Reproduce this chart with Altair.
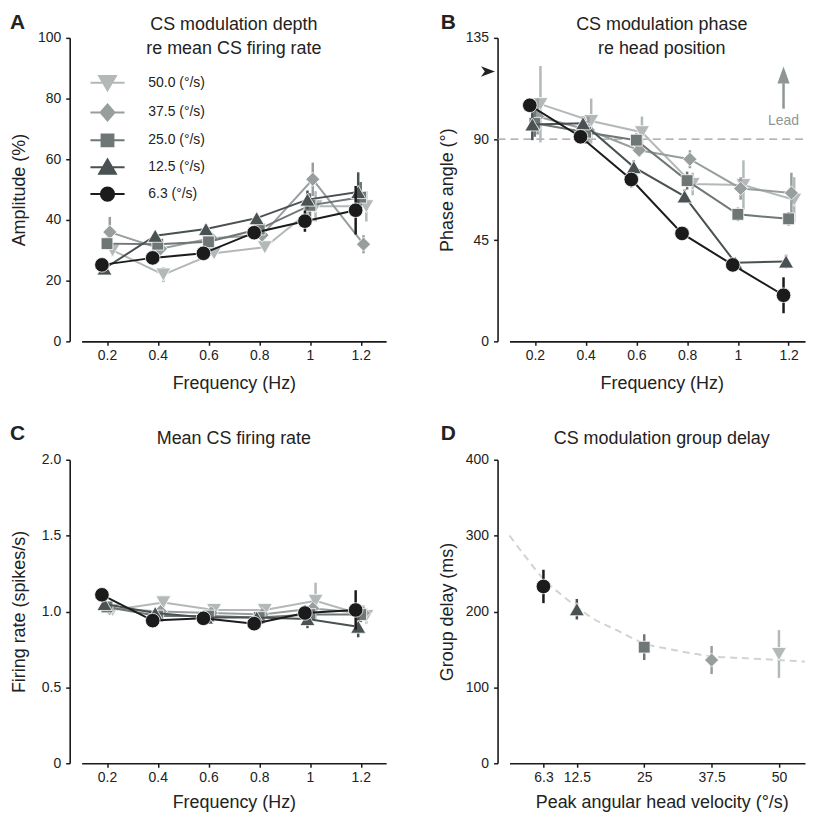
import altair as alt
import pandas as pd

# ---------------- data ----------------
freqs = [0.2, 0.4, 0.6, 0.8, 1.0, 1.2]
speed_labels = ["50.0", "37.5", "25.0", "12.5", "6.3"]   # back to front

# Panel A: modulation depth (%)
amp_50 = [30.0, 22.0, 29.0, 31.0, 44.5, 44.5]
amp_375 = [36.0, 30.5, 34.0, 35.0, 53.4, 32.0]
amp_25 = [32.2, 32.0, 32.8, 37.0, 44.8, 47.5]
amp_125 = [24.0, 34.8, 37.0, 40.6, 46.7, 49.2]
amp_63 = [25.2, 27.5, 29.0, 35.8, 39.6, 43.2]
amp_err_50 = [2.0, 2.5, 1.5, 1.5, 5.0, 5.0]
amp_err_375 = [5.0, 2.0, 2.0, 2.0, 5.5, 3.0]
amp_err_25 = [2.0, 1.5, 1.5, 2.0, 4.0, 5.0]
amp_err_125 = [1.5, 1.5, 1.5, 1.5, 3.0, 6.5]
amp_err_63 = [1.5, 1.5, 1.5, 2.0, 3.5, 8.0]

# Panel B: phase (deg)
ph_50 = [105.5, 98.0, 93.0, 70.0, 69.5, 63.0]
ph_375 = [100.0, 94.0, 85.0, 81.0, 68.0, 66.0]
ph_25 = [97.0, 93.0, 89.5, 71.5, 56.5, 54.5]
ph_125 = [96.5, 97.0, 77.5, 64.5, 35.0, 35.5]
ph_63 = [105.0, 91.0, 72.0, 48.0, 34.0, 20.5]
ph_err_50 = [17.0, 10.0, 7.0, 5.0, 11.0, 10.0]
ph_err_375 = [8.0, 6.0, 3.0, 4.0, 5.0, 9.0]
ph_err_25 = [6.0, 5.0, 3.0, 4.0, 3.0, 3.0]
ph_err_125 = [7.0, 3.0, 3.0, 3.0, 2.0, 3.0]
ph_err_63 = [3.0, 3.0, 3.5, 3.0, 2.0, 8.0]

# Panel C: mean firing rate (spikes/s)
fr_50 = [1.01, 1.06, 1.01, 1.01, 1.07, 0.97]
fr_375 = [1.02, 1.00, 0.99, 0.98, 1.02, 0.99]
fr_25 = [1.03, 0.97, 0.97, 0.96, 0.98, 0.98]
fr_125 = [1.05, 0.99, 0.96, 0.96, 0.95, 0.90]
fr_63 = [1.11, 0.94, 0.955, 0.92, 0.99, 1.01]
fr_err_50 = [0.03, 0.04, 0.03, 0.03, 0.12, 0.05]
fr_err_375 = [0.04, 0.02, 0.03, 0.03, 0.05, 0.05]
fr_err_25 = [0.03, 0.03, 0.02, 0.02, 0.04, 0.05]
fr_err_125 = [0.03, 0.02, 0.02, 0.02, 0.06, 0.07]
fr_err_63 = [0.03, 0.02, 0.02, 0.02, 0.05, 0.13]

# Panel D: group delay (ms)
velocities = [6.3, 12.5, 25.0, 37.5, 50.0]
velocity_labels = ["6.3", "12.5", "25.0", "37.5", "50.0"]
delay = [233, 203, 153, 136, 144]
delay_err = [22, 13.5, 17, 18.5, 31.5]
fit_x = [0, 3, 6.3, 10, 12.5, 15, 20, 25, 30, 37.5, 45, 50, 54.8]
fit_y = [300, 272, 243, 220, 206, 193, 175, 158, 150, 141, 138, 136, 134]

# annotations (data units)
ref_phase = 90
lead_x = 1.18
lead_tail = 103.5
lead_head = 118.5
lead_label_y = 98.0
marker_phase = 120
marker_x = 0.015

# ---------------- styles ----------------
colors = {"50.0": "#b3b8b8", "37.5": "#989e9e", "25.0": "#6f7676",
          "12.5": "#4a5152", "6.3": "#1b1b1b"}
shapes = {"50.0": "triangle-down", "37.5": "diamond", "25.0": "square",
          "12.5": "triangle-up", "6.3": "circle"}
sizes = {"50.0": 230, "37.5": 200, "25.0": 140, "12.5": 230, "6.3": 215}
jitter = {"50.0": 0.022, "37.5": 0.011, "25.0": 0.0, "12.5": -0.01, "6.3": -0.02}
legend_paths = {
    "6.3": "M-2.45,0H2.45M-0.95,0A0.95,0.95,0,1,0,0.95,0A0.95,0.95,0,1,0,-0.95,0Z",
    "12.5": "M-2.45,0H2.45M0,-1.1L1.2,0.95L-1.2,0.95Z",
    "25.0": "M-2.45,0H2.45M-0.85,-0.85H0.85V0.85H-0.85Z",
    "37.5": "M-2.45,0H2.45M0,-1.15L1,0L0,1.15L-1,0Z",
    "50.0": "M-2.45,0H2.45M0,1.1L1.2,-0.95L-1.2,-0.95Z",
}
FONT = "Liberation Sans"
TXT = "#222222"
W, H = 306, 305      # left column panels
W2 = 297             # right column panels (axis ends at the page edge)
PX_PER_HZ = 255.0

vals_A = {"50.0": amp_50, "37.5": amp_375, "25.0": amp_25, "12.5": amp_125, "6.3": amp_63}
errs_A = {"50.0": amp_err_50, "37.5": amp_err_375, "25.0": amp_err_25, "12.5": amp_err_125, "6.3": amp_err_63}
vals_B = {"50.0": ph_50, "37.5": ph_375, "25.0": ph_25, "12.5": ph_125, "6.3": ph_63}
errs_B = {"50.0": ph_err_50, "37.5": ph_err_375, "25.0": ph_err_25, "12.5": ph_err_125, "6.3": ph_err_63}
vals_C = {"50.0": fr_50, "37.5": fr_375, "25.0": fr_25, "12.5": fr_125, "6.3": fr_63}
errs_C = {"50.0": fr_err_50, "37.5": fr_err_375, "25.0": fr_err_25, "12.5": fr_err_125, "6.3": fr_err_63}


def x_axis(values, title, ty=42):
    return alt.Axis(values=values, title=title, labelExpr="toString(datum.value)",
                    titleX=153, titleY=ty, titleBaseline="middle", titleAlign="center")


def y_axis(values, title, label_expr=None):
    kw = dict(values=values, title=title, offset=12, titleAngle=270, titleX=-50,
              titleY=H / 2, titleBaseline="middle", titleAlign="center", labelPadding=5)
    if label_expr:
        kw["labelExpr"] = label_expr
    return alt.Axis(**kw)


def text_layer(text, x, y, size=18, weight="normal", align="center", color=TXT):
    return alt.Chart(pd.DataFrame({"t": [text]})).mark_text(
        fontSize=size, fontWeight=weight, align=align, baseline="middle",
        color=color, font=FONT).encode(text="t:N", x=alt.value(x), y=alt.value(y))


def freq_layers(vals, errs, xs, ys, xax, yax):
    layers = []
    for sp in speed_labels:
        df = pd.DataFrame({"f": [round(f + jitter[sp], 4) for f in freqs],
                           "v": vals[sp], "e": errs[sp]})
        df["lo"] = df["v"] - df["e"]
        df["hi"] = df["v"] + df["e"]
        base = alt.Chart(df)
        X = alt.X("f:Q", scale=xs, axis=xax)
        layers.append(base.mark_rule(color=colors[sp], strokeWidth=2.5).encode(
            x=X, y=alt.Y("lo:Q", scale=ys, axis=yax), y2="hi:Q"))
        layers.append(base.mark_line(color=colors[sp], strokeWidth=2).encode(
            x=X, y=alt.Y("v:Q", scale=ys, axis=yax)))
        layers.append(base.mark_point(filled=True, opacity=1, fill=colors[sp], stroke="white",
                                      strokeWidth=0.8, size=sizes[sp], shape=shapes[sp]).encode(
            x=X, y=alt.Y("v:Q", scale=ys, axis=yax)))
    return layers


x_end2 = 0.1 + W2 / PX_PER_HZ
fxs = alt.Scale(domain=[0.1, 1.3], nice=False, zero=False)
fxs2 = alt.Scale(domain=[0.1, x_end2], nice=False, zero=False)

# ---- Panel A ----
ysA = alt.Scale(domain=[0, 100], nice=False)
xaxA = x_axis(freqs, "Frequency (Hz)")
yaxA = y_axis([0, 20, 40, 60, 80, 100], "Amplitude (%)")

legend_A = alt.Legend(
    orient="none", legendX=18, legendY=37, title=None, padding=0,
    labelExpr="datum.value === '6.3' ? '\u00a0\u00a06.3 (°/s)' : datum.value + ' (°/s)'",
    labelFontSize=14, labelFont=FONT, labelColor=TXT, labelOffset=33,
    symbolSize=196, symbolStrokeWidth=2, symbolOpacity=1, rowPadding=5,
)
leg_df = pd.DataFrame({"speed": pd.Series([], dtype="str"),
                       "f": pd.Series([], dtype="float"),
                       "v": pd.Series([], dtype="float")})
legend_layer = alt.Chart(leg_df).mark_point(filled=True, opacity=1).encode(
    x=alt.X("f:Q", scale=fxs, axis=xaxA),
    y=alt.Y("v:Q", scale=ysA, axis=yaxA),
    fill=alt.Fill("speed:N", scale=alt.Scale(domain=speed_labels, range=[colors[s] for s in speed_labels]), legend=legend_A),
    stroke=alt.Stroke("speed:N", scale=alt.Scale(domain=speed_labels, range=[colors[s] for s in speed_labels]), legend=legend_A),
    shape=alt.Shape("speed:N", scale=alt.Scale(domain=speed_labels, range=[legend_paths[s] for s in speed_labels]), legend=legend_A),
)

pA = alt.layer(
    *freq_layers(vals_A, errs_A, fxs, ysA, xaxA, yaxA),
    legend_layer,
    text_layer("CS modulation depth", W / 2, -13),
    text_layer("re mean CS firing rate", W / 2, 11),
    text_layer("A", -72, -15, size=21, weight="bold", align="left"),
).properties(width=W, height=H)

# ---- Panel B ----
ysB = alt.Scale(domain=[0, 135], nice=False)
xaxB = x_axis(freqs, "Frequency (Hz)")
yaxB = y_axis([0, 45, 90, 135], "Phase angle (°)")
ref_df = pd.DataFrame({"x0": [0.053], "x1": [x_end2], "y": [ref_phase]})
ref_rule = alt.Chart(ref_df).mark_rule(color="#9c9c9c", strokeWidth=1.3, strokeDash=[8, 5]).encode(
    x=alt.X("x0:Q", scale=fxs2, axis=xaxB), x2="x1:Q", y=alt.Y("y:Q", scale=ysB, axis=yaxB))
lead_df = pd.DataFrame({"x": [lead_x], "y0": [lead_tail], "y1": [lead_head - 3.7],
                        "yh": [lead_head], "yt": [lead_label_y], "t": ["Lead"]})
lead_shaft = alt.Chart(lead_df).mark_rule(color="#8e9696", strokeWidth=2.5).encode(
    x=alt.X("x:Q", scale=fxs2, axis=xaxB), y=alt.Y("y0:Q", scale=ysB, axis=yaxB), y2="y1:Q")
lead_head_mk = alt.Chart(lead_df).mark_point(
    shape="M0,-1L0.72,1L-0.72,1Z", filled=True, size=289, color="#8e9696", opacity=1).encode(
    x=alt.X("x:Q", scale=fxs2, axis=xaxB), y=alt.Y("yh:Q", scale=ysB, axis=yaxB))
lead_text = alt.Chart(lead_df).mark_text(fontSize=14, font=FONT, color="#8e9696",
                                         baseline="middle", align="center").encode(
    x=alt.X("x:Q", scale=fxs2, axis=xaxB), y=alt.Y("yt:Q", scale=ysB, axis=yaxB), text="t:N")
mk_df = pd.DataFrame({"x": [marker_x], "y": [marker_phase]})
chevron = alt.Chart(mk_df).mark_point(
    shape="M1,0L-1,-0.75L-0.45,0L-1,0.75Z", filled=True, size=196, color="#222222", opacity=1).encode(
    x=alt.X("x:Q", scale=fxs2, axis=xaxB), y=alt.Y("y:Q", scale=ysB, axis=yaxB))
pB = alt.layer(
    ref_rule,
    *freq_layers(vals_B, errs_B, fxs2, ysB, xaxB, yaxB),
    lead_shaft, lead_head_mk, lead_text, chevron,
    text_layer("CS modulation phase", W / 2, -13),
    text_layer("re head position", W / 2, 11),
    text_layer("B", -69, -15, size=21, weight="bold", align="left"),
).properties(width=W2, height=H)

# ---- Panel C ----
ysC = alt.Scale(domain=[0, 2], nice=False)
pC = alt.layer(
    *freq_layers(vals_C, errs_C, fxs, ysC, x_axis(freqs, "Frequency (Hz)", 39),
                 y_axis([0, 0.5, 1.0, 1.5, 2.0], "Firing rate (spikes/s)",
                        "datum.value == 0 ? '0' : format(datum.value, '.1f')")),
    text_layer("Mean CS firing rate", W / 2, -21),
    text_layer("C", -72, -26, size=21, weight="bold", align="left"),
).properties(width=W, height=H)

# ---- Panel D ----
xsD = alt.Scale(domain=[0, 56.5 * W2 / W], nice=False, zero=False)
ysD = alt.Scale(domain=[0, 400], nice=False)
xaxD = x_axis(velocities, "Peak angular head velocity (°/s)", 39)
yaxD = y_axis([0, 100, 200, 300, 400], "Group delay (ms)")
fit_df = pd.DataFrame({"x": fit_x, "y": fit_y})
layersD = [alt.Chart(fit_df).mark_line(color="#d2d2d2", strokeWidth=2, strokeDash=[7, 5],
                                       interpolate="monotone").encode(
    x=alt.X("x:Q", scale=xsD, axis=xaxD), y=alt.Y("y:Q", scale=ysD, axis=yaxD))]
for i, sp in enumerate(velocity_labels):
    d = pd.DataFrame({"v": [velocities[i]], "d": [delay[i]],
                      "lo": [delay[i] - delay_err[i]], "hi": [delay[i] + delay_err[i]]})
    layersD.append(alt.Chart(d).mark_rule(strokeWidth=2.5, color=colors[sp]).encode(
        x=alt.X("v:Q", scale=xsD, axis=xaxD), y=alt.Y("lo:Q", scale=ysD, axis=yaxD), y2="hi:Q"))
    layersD.append(alt.Chart(d).mark_point(filled=True, opacity=1, fill=colors[sp], stroke="white",
                                           strokeWidth=0.8, size=sizes[sp], shape=shapes[sp]).encode(
        x=alt.X("v:Q", scale=xsD, axis=xaxD), y=alt.Y("d:Q", scale=ysD, axis=yaxD)))
pD = alt.layer(
    *layersD,
    text_layer("CS modulation group delay", W / 2, -21),
    text_layer("D", -69, -26, size=21, weight="bold", align="left"),
).properties(width=W2, height=H)

chart = alt.concat(
    pA, pB, pC, pD, columns=2, spacing={"row": 119, "column": 124}, bounds="flush"
).properties(
    padding={"left": 2, "top": 2, "right": 0, "bottom": 0}
).configure(font=FONT).configure_view(stroke=None).configure_axis(
    grid=False, domainColor="#1a1a1a", domainWidth=1.6, tickColor="#1a1a1a",
    tickWidth=1.5, tickSize=4, labelFontSize=14, labelFont=FONT, labelColor=TXT,
    labelPadding=3, titleFont=FONT, titleFontSize=18, titleFontWeight="normal",
    titleColor=TXT,
)

chart.save("out.html", embed_options={"renderer": "svg", "actions": False})
